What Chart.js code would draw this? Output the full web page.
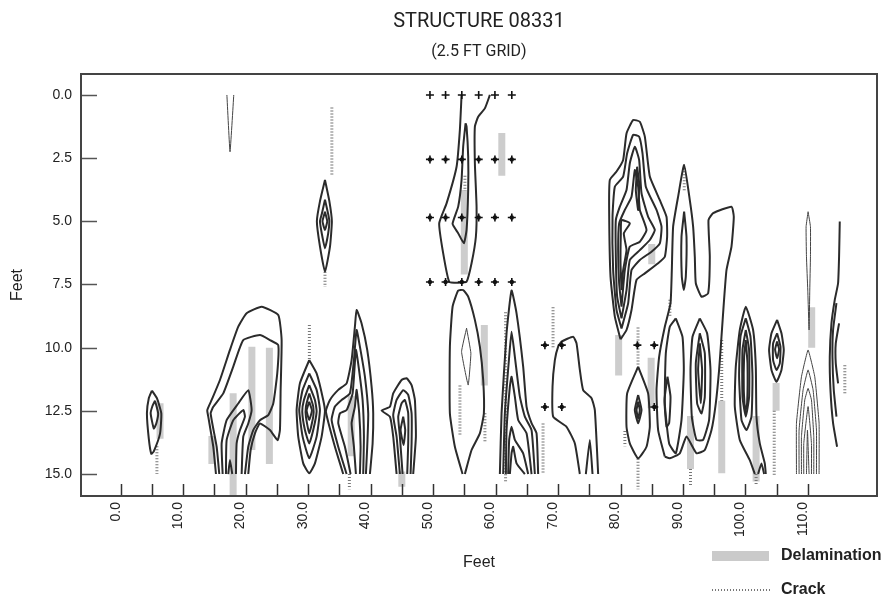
<!DOCTYPE html>
<html>
<head>
<meta charset="utf-8">
<script src="https://cdn.jsdelivr.net/npm/chart.js@4.4.1/dist/chart.umd.min.js"></script>
<style>
html,body{margin:0;padding:0;background:#fff;}
#wrap{width:883px;height:598px;}
</style>
</head>
<body>
<div id="wrap"><canvas id="c" width="883" height="598"></canvas></div>
<script>
// ---------- texts ----------
const titleText = 'STRUCTURE 08331';
const subtitleText = '(2.5 FT GRID)';
const xTitle = 'Feet';
const yTitle = 'Feet';
const legendLabels = ['Delamination', 'Crack'];

// ---------- ticks ----------
const xLabelTicks = [0, 10, 20, 30, 40, 50, 60, 70, 80, 90, 100, 110];
const xMinorTicks = [0, 5, 10, 15, 20, 25, 30, 35, 40, 45, 50, 55, 60, 65, 70, 75, 80, 85, 90, 95, 100, 105, 110];
const yTicks = [0, 2.5, 5, 7.5, 10, 12.5, 15];

// ---------- contour lines (x ft, y ft) ----------
const c05a = [[5.0,11.7],[5.8,12.0],[6.5,12.6],[6.3,13.4],[5.3,14.1],[4.9,14.2],[4.5,13.6],[4.2,12.6],[4.5,12.0],[5.0,11.7]];
const c05b = [[5.5,12.1],[6.0,12.6],[5.7,13.0],[5.3,13.2],[4.8,12.6],[5.1,12.3],[5.5,12.1]];
const cV = [[17.0,0],[17.5,2.25],[18.1,0]];
const c33a = [[32.7,3.36],[33.4,4.2],[33.8,5.0],[33.5,6.0],[32.7,7.0],[31.9,6.0],[31.4,5.0],[31.9,4.2],[32.7,3.36]];
const c33b = [[32.7,4.15],[33.2,4.7],[33.4,5.0],[33.2,5.5],[32.7,6.07],[32.2,5.5],[31.9,5.0],[32.2,4.7],[32.7,4.15]];
const c33c = [[32.7,4.62],[33.06,5.0],[32.7,5.34],[32.3,5.0],[32.7,4.62]];
const c20a = [[15.25,15],[14.82,13.92],[14.02,12.73],[13.86,12.47],[14.56,12.07],[15.89,11.28],[17.49,10.09],[18.82,9.17],[20.16,8.64],[22.56,8.38],[25.22,8.71],[25.76,9.7],[25.6,11.68],[25.49,13.26],[25.12,13.66],[23.89,13.26],[22.29,13.0],[21.49,13.39],[20.8,14.05],[20.42,15]];
const c20b = [[15.78,15],[15.36,13.92],[14.4,12.6],[14.82,12.34],[16.42,11.81],[18.02,10.75],[19.62,9.7],[22.29,9.5],[23.89,9.7],[25.22,9.9],[25.06,11.02],[24.42,12.21],[23.62,12.67],[22.29,12.87],[21.22,13.26],[20.42,13.92],[19.89,15]];
const c20c = [[16.32,15],[16.16,13.79],[16.96,12.87],[18.82,12.21],[20.42,11.68],[20.96,12.47],[20.42,13.0],[19.62,13.52],[19.36,15]];
const c20d = [[16.85,15],[16.96,13.66],[18.02,12.87],[19.62,12.47],[19.89,12.73],[19.09,13.26],[18.56,13.79],[18.45,15]];
const c20e = [[17.22,15],[17.49,14.45],[17.86,15]];
const c30a = [[30.18,10.49],[31.36,11.02],[32.42,12.07],[32.69,12.53],[32.16,13.52],[31.09,14.58],[30.18,14.97],[29.22,14.58],[28.42,13.52],[28.16,12.47],[28.69,11.41],[30.18,10.49]];
const c30b = [[30.18,11.02],[31.36,11.67],[31.89,12.47],[31.36,13.52],[30.18,14.38],[29.12,13.52],[28.58,12.47],[29.12,11.67],[30.18,11.02]];
const c30c = [[30.18,11.48],[31.09,12.07],[31.36,12.53],[30.82,13.26],[30.18,13.79],[29.49,13.26],[29.06,12.53],[29.33,12.07],[30.18,11.48]];
const c30d = [[30.18,11.81],[30.82,12.33],[30.82,12.73],[30.18,13.39],[29.65,12.73],[29.65,12.33],[30.18,11.81]];
const c30e = [[30.18,12.14],[30.61,12.49],[30.18,12.86],[29.76,12.49],[30.18,12.14]];
const c37a = [[35.62,15],[34.29,13.92],[32.85,12.53],[33.49,12.07],[34.82,11.67],[36.16,11.41],[36.96,10.49],[37.49,9.17],[37.76,8.51],[38.56,9.04],[39.46,10.09],[40.16,11.54],[40.42,12.6],[40.32,13.79],[39.89,15]];
const c37b = [[36.16,15],[34.82,13.92],[33.76,12.86],[34.29,12.33],[35.36,12.07],[36.69,11.81],[37.33,10.49],[37.76,9.3],[38.29,9.96],[39.09,11.15],[39.62,12.6],[39.46,13.92],[39.25,15]];
const c37c = [[36.8,15],[35.89,13.92],[34.82,12.99],[35.09,12.6],[36.16,12.47],[37.12,11.81],[37.65,10.09],[38.08,10.75],[38.72,12.07],[38.93,13.52],[38.82,15]];
const c37d = [[37.65,15],[37.33,13.92],[36.96,12.99],[37.49,12.33],[37.76,11.67],[38.18,12.6],[38.4,13.92],[38.29,15]];
const c45a = [[44.16,15],[43.62,13.52],[43.09,12.73],[41.76,12.49],[43.09,12.34],[43.62,11.81],[44.96,11.28],[45.76,11.21],[46.56,11.48],[47.09,12.07],[47.25,13.52],[46.82,15]];
const c45b = [[44.69,15],[44.16,13.52],[43.62,12.67],[44.16,12.07],[45.22,11.68],[46.02,11.87],[46.56,12.6],[46.56,13.79],[46.4,15]];
const c45c = [[45.12,15],[44.69,13.52],[44.42,12.73],[44.96,12.2],[45.49,12.07],[46.02,12.6],[46.02,13.79],[45.86,15]];
const c45d = [[45.22,12.73],[45.54,13.26],[45.28,13.85],[44.8,13.26],[45.22,12.73]];
const cG1a = [[54.56,0],[54.29,1.38],[53.76,2.84],[52.16,4.29],[50.98,5.08],[51.62,6.27],[52.58,7.39],[54.02,7.43],[55.36,7.39],[56.16,6.66],[56.85,5.61],[56.96,4.42],[56.69,2.7],[56.69,1.25],[57.22,0.86],[58.29,0.53],[59.09,0]];
const cG1b = [[55.2,1.12],[54.82,2.04],[54.56,3.36],[54.02,4.42],[53.12,5.1],[54.02,5.47],[54.93,5.87],[55.36,5.34],[55.62,3.76],[55.62,2.44],[55.36,1.25],[55.2,1.12]];
const cG2a = [[54.72,15],[53.49,13.92],[52.69,12.6],[52.69,9.96],[53.12,8.38],[54.02,7.74],[54.82,7.72],[55.62,7.98],[56.69,8.9],[57.49,9.96],[58.02,11.28],[58.13,12.6],[57.49,13.39],[56.16,14.05],[55.09,15]];
const cG2b = [[55.36,9.23],[56.05,10.22],[55.62,11.48],[54.56,10.16],[55.36,9.23]];
const cG3a = [[60.69,15],[60.96,12.6],[61.76,9.43],[62.56,7.74],[63.36,8.64],[64.42,10.75],[64.96,12.33],[65.76,12.99],[66.56,13.39],[66.82,15]];
const cG3b = [[61.22,15],[61.49,12.6],[62.18,10.36],[62.56,9.37],[63.09,10.36],[63.89,11.94],[64.69,12.73],[65.76,13.26],[66.29,15]];
const cG3c = [[61.65,15],[61.76,13.26],[62.29,11.54],[62.56,11.15],[63.09,11.94],[63.62,12.86],[64.96,13.39],[65.76,15]];
const cG3d = [[62.02,15],[62.18,13.65],[62.56,13.13],[63.09,13.65],[64.42,14.18],[65.22,15]];
const cG3e = [[62.29,15],[62.56,14.18],[62.82,13.92],[63.36,14.58],[64.69,15]];
const cH = [[73.49,15],[72.69,13.79],[71.36,13.13],[69.22,12.73],[69.12,11.54],[69.49,10.49],[70.02,9.96],[70.56,9.76],[72.42,9.57],[72.96,9.83],[73.49,10.88],[74.02,11.68],[75.36,12.0],[75.89,12.47],[76.42,15]];
const cHs = [[74.45,15],[75.09,13.65],[75.52,15]];
const cIa = [[80.0,9.67],[79.09,8.77],[78.4,7.19],[78.18,4.55],[78.29,3.36],[79.36,3.03],[80.42,2.57],[80.96,1.52],[82.02,0.99],[83.09,1.06],[83.89,1.65],[84.69,3.23],[86.29,4.16],[87.36,4.82],[87.46,5.61],[87.09,6.4],[86.02,6.66],[83.89,7.06],[82.56,7.32],[81.76,8.51],[80.96,9.3],[80.0,9.67]];
const cIb = [[80.16,9.24],[79.36,8.51],[78.82,6.93],[78.72,4.82],[79.09,3.63],[80.42,3.23],[81.06,2.31],[82.02,1.58],[82.98,1.65],[83.52,2.31],[84.05,3.63],[85.76,4.55],[86.56,5.21],[86.29,5.87],[84.96,6.2],[83.09,6.53],[81.76,6.93],[81.22,8.25],[80.16,9.24]];
const cIc = [[80.16,8.84],[79.46,7.98],[79.25,6.4],[79.25,4.95],[79.89,4.42],[80.96,3.76],[81.49,2.7],[82.29,2.05],[82.98,2.57],[83.36,3.89],[84.42,4.82],[85.49,5.34],[84.69,5.74],[83.09,6.14],[81.49,6.53],[80.96,7.72],[80.16,8.84]];
const cId = [[80.16,8.38],[79.78,7.45],[79.62,6.14],[79.78,5.08],[80.69,4.55],[81.76,4.03],[82.29,2.97],[82.82,3.63],[83.09,4.55],[84.16,5.34],[83.09,5.81],[81.49,6.0],[80.69,6.93],[80.16,8.38]];
const cIe = [[80.16,7.72],[80.0,6.66],[80.05,5.48],[80.16,4.95],[81.49,5.08],[80.53,5.48],[80.96,6.14],[80.42,6.93],[80.16,7.72]];
const cIf = [[82.66,2.84],[82.98,3.5],[82.82,4.55],[82.45,3.76],[82.66,2.84]];
const cJa = [[82.82,10.75],[84.42,11.81],[84.69,13.13],[84.16,13.92],[82.82,14.38],[81.49,13.79],[80.96,13.13],[81.06,11.81],[82.82,10.75]];
const cJb = [[82.82,11.87],[83.36,12.47],[82.82,12.99],[82.29,12.47],[82.82,11.87]];
const cJc = [[82.82,12.14],[83.09,12.47],[82.82,12.8],[82.56,12.47],[82.82,12.14]];
const cK1 = [[87.09,14.31],[86.02,13.26],[85.76,11.68],[86.18,10.36],[87.09,9.17],[88.0,8.25],[88.21,6.93],[88.42,5.21],[89.22,4.02],[90.18,2.77],[91.09,4.16],[91.62,5.21],[91.89,6.4],[92.05,7.45],[92.96,7.98],[94.02,7.85],[94.29,6.4],[94.08,4.95],[94.82,4.68],[97.76,4.42],[98.13,4.82],[97.76,6.0],[96.96,6.93],[96.53,8.25],[96.16,9.57],[95.78,10.88],[95.25,12.2],[94.56,13.26],[93.49,14.05],[92.16,14.18],[90.56,13.52],[89.49,14.18],[87.89,14.38],[87.09,14.31]];
const cK2 = [[88.85,8.84],[89.92,9.57],[90.13,10.88],[89.76,12.86],[88.85,14.18],[87.78,13.79],[87.09,12.2],[87.25,10.22],[87.89,9.17],[88.85,8.84]];
const cK3 = [[87.52,11.15],[88.0,11.94],[87.78,12.99],[87.36,13.13],[87.04,12.07],[87.52,11.15]];
const cK4 = [[92.69,8.84],[93.86,9.43],[94.4,10.88],[94.18,12.86],[93.22,13.65],[92.16,13.65],[91.41,12.73],[91.2,10.88],[91.52,9.57],[92.69,8.84]];
const cK5 = [[92.69,9.43],[93.49,10.22],[93.49,11.94],[92.96,12.6],[92.26,12.2],[92.05,10.62],[92.69,9.43]];
const cK6 = [[92.69,9.83],[93.06,10.88],[92.85,12.2],[92.42,10.88],[92.69,9.83]];
const cK7 = [[90.18,4.62],[90.56,5.61],[90.45,7.19],[90.13,7.72],[89.81,7.19],[89.76,5.61],[90.18,4.62]];
const cLa = [[101.49,15],[100.69,14.45],[99.09,13.65],[98.29,12.33],[98.45,10.75],[99.09,9.3],[100.05,8.38],[101.22,9.3],[101.65,10.75],[101.76,12.73],[102.29,13.79],[103.09,14.58],[103.25,15]];
const cLb = [[100.05,8.84],[100.8,9.56],[101.12,11.15],[100.96,12.73],[100.16,13.26],[99.36,12.86],[98.98,11.15],[99.2,9.56],[100.05,8.84]];
const cLc = [[100.05,9.3],[100.58,10.09],[100.58,11.94],[100.05,12.73],[99.52,11.94],[99.52,10.09],[100.05,9.3]];
const cLd = [[100.05,9.7],[100.32,10.62],[100.26,12.2],[99.94,12.53],[99.73,11.67],[99.78,10.36],[100.05,9.7]];
const cLs = [[102.02,15],[102.56,14.58],[102.98,15]];
const cMa = [[105.06,8.9],[105.76,9.43],[106.13,10.09],[105.76,10.88],[104.96,11.35],[104.16,10.88],[103.78,10.09],[104.16,9.43],[105.06,8.9]];
const cMb = [[105.06,9.43],[105.6,9.96],[105.49,10.62],[104.96,10.88],[104.42,10.49],[104.42,9.83],[105.06,9.43]];
const cMc = [[105.06,9.76],[105.38,10.07],[105.06,10.42],[104.74,10.07],[105.06,9.76]];
const cNa = [[108.16,15],[108.16,12.99],[108.96,11.15],[110.02,10.09],[111.09,11.15],[111.78,12.99],[111.78,15]];
const cNb = [[108.58,15],[108.58,13.26],[109.22,11.67],[110.02,10.88],[110.82,11.67],[111.36,13.26],[111.36,15]];
const cNc = [[108.96,15],[108.96,13.52],[109.49,12.07],[110.02,11.61],[110.56,12.07],[110.93,13.52],[110.93,15]];
const cNd = [[109.33,15],[109.33,13.79],[110.02,12.33],[110.56,13.79],[110.56,15]];
const cNe = [[109.76,15],[109.92,13.26],[110.18,15]];
const cO = [[110.02,4.62],[110.4,5.21],[110.4,6.4],[110.29,7.72],[110.18,9.3],[109.97,7.72],[109.76,6.4],[109.7,5.21],[110.02,4.62]];
const cPa = [[115.09,5.01],[114.98,6.4],[114.82,7.45],[114.29,8.11],[113.76,9.04],[113.49,10.36],[113.6,11.67],[114.02,12.99],[114.66,13.92]];
const cPb = [[114.56,8.24],[114.02,9.3],[113.92,10.36],[114.13,11.67],[114.56,12.73]];
const cPc = [[114.98,9.04],[114.45,9.83],[114.45,10.62],[114.82,11.41]];

const contourLines = [c05a,c05b,c33a,c33b,c33c,c20a,c20b,c20c,c20d,c20e,c30a,c30b,c30c,c30d,c30e,
  c37a,c37b,c37c,c37d,c45a,c45b,c45c,c45d,cG1a,cG1b,cG2a,cG3a,cG3b,cG3c,cG3d,cG3e,cH,cHs,
  cIa,cIb,cIc,cId,cIe,cIf,cJa,cJb,cJc,cK1,cK2,cK3,cK4,cK5,cK6,cK7,cLa,cLb,cLc,cLd,cLs,
  cMa,cMb,cMc,cPa,cPb,cPc];
const thinContourLines = [cV, cG2b, cNa, cNb, cNc, cNd, cNe, cO];

// ---------- delamination (x, top, bottom in ft) ----------
const delamX      = [6.3, 18.0, 21.0, 23.8, 14.6, 36.9, 45.0, 55.0, 61.0, 58.2, 79.7, 84.9, 85.0, 91.2, 96.2, 101.7, 104.9, 110.6];
const delamTop    = [12.2, 11.8, 9.96, 10.0, 13.5, 11.9, 14.9, 3.76, 1.5, 9.1, 9.5, 10.4, 5.9, 12.7, 12.1, 12.7, 11.4, 8.4];
const delamBottom = [13.6, 15.87, 14.05, 14.6, 14.6, 14.3, 15.5, 7.1, 3.2, 11.5, 11.1, 12.4, 6.7, 14.8, 14.97, 15.3, 12.5, 10.0];

// ---------- cracks (x, top, bottom in ft) ----------
const crackX      = [5.8, 33.8, 32.7, 30.2, 36.6, 54.3, 55.1, 58.3, 61.6, 67.6, 69.2, 82.8, 82.8, 80.7, 87.9, 91.2, 96.2, 104.6, 115.9, 90.2, 101.7];
const crackTop    = [13.9, 0.5, 7.0, 9.1, 15.0, 11.5, 3.2, 12.6, 8.6, 13.0, 8.4, 9.2, 14.4, 13.3, 8.1, 14.8, 9.7, 12.5, 10.7, 2.9, 15.0];
const crackBottom = [15.0, 3.2, 7.6, 10.5, 15.6, 13.5, 3.8, 13.7, 15.3, 15.0, 10.0, 10.7, 15.6, 13.9, 8.8, 15.5, 12.1, 15.1, 11.8, 3.8, 15.4];

// ---------- survey grid markers ----------
const gridX = [49.5, 52.0, 54.6, 57.3, 59.9, 62.6];
const gridY = [0, 2.55, 4.85, 7.4];
const extraCrossX = [67.9, 70.6, 67.9, 70.6, 82.7, 85.4, 85.4];
const extraCrossY = [9.9, 9.9, 12.35, 12.35, 9.9, 9.9, 12.35];

// ---------- build datasets ----------
const toPts = arr => arr.map(p => ({x: p[0], y: p[1]}));
const LINE = '#2b2b2b';
const datasets = [];

const crossPts = [];
const dotPts = [];
gridY.forEach((gy, r) => gridX.forEach(gx => { crossPts.push({x: gx, y: gy}); if (r > 0) dotPts.push({x: gx, y: gy}); }));
extraCrossX.forEach((ex, i) => { crossPts.push({x: ex, y: extraCrossY[i]}); dotPts.push({x: ex, y: extraCrossY[i]}); });

datasets.push({label: 'grid', data: crossPts, pointStyle: 'cross', pointRadius: 4, borderColor: '#111', pointBorderWidth: 1.6, showLine: false, order: 0});
datasets.push({label: 'gridDot', data: dotPts, pointStyle: 'circle', pointRadius: 2.2, backgroundColor: '#111', borderColor: '#111', pointBorderWidth: 0, showLine: false, order: 0});

contourLines.forEach(c => datasets.push({data: toPts(c), showLine: true, pointRadius: 0, borderColor: LINE, borderWidth: 2, tension: 0.15, order: 1}));
thinContourLines.forEach(c => datasets.push({data: toPts(c), showLine: true, pointRadius: 0, borderColor: '#444', borderWidth: 1, tension: 0.1, order: 1}));

crackX.forEach((cx, i) => datasets.push({label: legendLabels[1], data: [{x: cx, y: crackTop[i]}, {x: cx, y: crackBottom[i]}], showLine: true, pointRadius: 0, borderColor: '#777', borderWidth: 3, borderDash: [1, 2], borderCapStyle: 'butt', order: 2}));
delamX.forEach((dx, i) => datasets.push({label: legendLabels[0], data: [{x: dx, y: delamTop[i]}, {x: dx, y: delamBottom[i]}], showLine: true, pointRadius: 0, borderColor: '#cdcdcd', borderWidth: 7, borderCapStyle: 'butt', order: 3}));

const FONT = "'Liberation Sans', Arial, sans-serif";

const framePlugin = {
  id: 'frameAndLegend',
  afterDatasetsDraw(chart) {
    const {ctx, chartArea: a, scales: {x, y}} = chart;
    ctx.save();
    ctx.strokeStyle = '#555';
    ctx.lineWidth = 1.5;
    yTicks.forEach(v => {
      const py = Math.round(y.getPixelForValue(v)) + 0.5;
      ctx.beginPath(); ctx.moveTo(a.left, py); ctx.lineTo(a.left + 16, py); ctx.stroke();
    });
    ctx.strokeStyle = '#333';
    xMinorTicks.forEach(v => {
      const px = Math.round(x.getPixelForValue(v)) + 0.5;
      ctx.beginPath(); ctx.moveTo(px, a.bottom); ctx.lineTo(px, a.bottom - 12); ctx.stroke();
    });
    ctx.strokeStyle = '#444';
    ctx.lineWidth = 2;
    ctx.strokeRect(a.left, a.top, a.right - a.left, a.bottom - a.top);
    ctx.restore();
  },
  afterDraw(chart) {
    const ctx = chart.ctx;
    ctx.save();
    ctx.fillStyle = '#cacaca';
    ctx.fillRect(712, 551, 57, 10);
    ctx.strokeStyle = '#777';
    ctx.lineWidth = 2;
    ctx.setLineDash([1, 2]);
    ctx.beginPath(); ctx.moveTo(712, 590); ctx.lineTo(770, 590); ctx.stroke();
    ctx.setLineDash([]);
    ctx.fillStyle = '#222';
    ctx.font = 'bold 16px ' + FONT;
    ctx.textBaseline = 'middle';
    ctx.textAlign = 'left';
    ctx.fillText(legendLabels[0], 781, 556);
    ctx.fillText(legendLabels[1], 781, 590);
    ctx.restore();
  }
};

new Chart(document.getElementById('c'), {
  type: 'scatter',
  data: {datasets},
  options: {
    responsive: false,
    animation: false,
    devicePixelRatio: 1,
    layout: {padding: {left: 0, right: 6, top: 0, bottom: 0}},
    plugins: {
      legend: {display: false},
      tooltip: {enabled: false},
      title: {display: true, text: titleText, fullSize: false, color: '#222',
        font: {family: "Roboto, 'Liberation Sans', sans-serif", size: 20, weight: 'normal'},
        padding: {top: 10, bottom: 0}},
      subtitle: {display: true, text: subtitleText, fullSize: false, color: '#222',
        font: {family: "Roboto, 'Liberation Sans', sans-serif", size: 16}, padding: {top: 8.4, bottom: 12.4}}
    },
    scales: {
      x: {
        type: 'linear', min: -6.35, max: 121.05,
        grid: {display: false, drawTicks: false},
        border: {display: false},
        afterBuildTicks: s => { s.ticks = xLabelTicks.map(v => ({value: v})); },
        afterFit: s => { s.height = 102; },
        ticks: {autoSkip: false, minRotation: 90, maxRotation: 90, padding: 6, labelOffset: -5,
          color: '#222', font: {family: FONT, size: 14},
          callback: v => Number(v).toFixed(1)},
        title: {display: true, text: xTitle, color: '#222', font: {family: FONT, size: 16}, padding: {top: 0, bottom: 25.4}}
      },
      y: {
        type: 'linear', reverse: true, min: -0.83, max: 15.87,
        grid: {display: false, drawTicks: false},
        border: {display: false},
        afterBuildTicks: s => { s.ticks = yTicks.map(v => ({value: v})); },
        afterFit: s => { s.width = 81; },
        ticks: {autoSkip: false, padding: 9, color: '#222', font: {family: FONT, size: 14},
          callback: v => Number(v).toFixed(1)},
        title: {display: true, text: yTitle, color: '#222', font: {family: FONT, size: 16}, padding: {top: 8.4, bottom: 0}}
      }
    }
  },
  plugins: [framePlugin]
});
</script>
</body>
</html>
